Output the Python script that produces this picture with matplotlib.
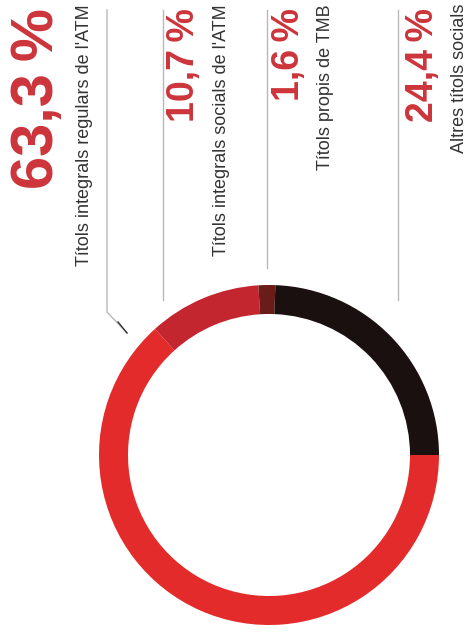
import matplotlib
matplotlib.use("Agg")
import matplotlib.pyplot as plt

# Data
shares = [63.3, 10.7, 1.6, 24.4]
labels = [
    "Títols integrals regulars de l'ATM",
    "Títols integrals socials de l'ATM",
    "Títols propis de TMB",
    "Altres títols socials",
]
colors = ["#e22b2a", "#c4262f", "#6a1c18", "#1a1010"]

plt.rcParams['font.family'] = ['Liberation Sans', 'DejaVu Sans']

W, H = 476, 640
fig = plt.figure(figsize=(W / 100, H / 100), dpi=100)
ax = fig.add_axes([0, 0, 1, 1])

# Donut (image coords converted: y_data = H - y_img)
cx, cy, r_out, ring = 269, H - 455, 170, 29
ax.pie(shares, colors=colors, startangle=0, counterclock=False,
       center=(cx, cy), radius=r_out,
       wedgeprops=dict(width=ring, linewidth=0))

# Text columns (rotated, reading bottom to top)
num_x = [38, 184, 289, 423]
num_size = [43, 27, 27, 27]
lab_x = [85, 222, 325, 460]
for v, lab, nx, ns, lx in zip(shares, labels, num_x, num_size, lab_x):
    pct = f"{v:.1f}".replace('.', ',') + "\u2009%"
    ax.text(nx, H - 8, pct, rotation=90, ha='center', va='top',
            fontsize=ns, fontweight='bold', color='#cc343a')
    ax.text(lx, H - 4, lab, rotation=90, ha='center', va='top',
            fontsize=13, color='#333333')

# Separator / leader lines
line_kw = dict(color='#b8b8b8', linewidth=1.0)
ax.plot([107, 107, 127], [H - 10, H - 312, H - 333], **line_kw)
ax.plot([127, 118], [H - 333, H - 322], color='#333333', linewidth=1.0)
ax.plot([163, 163], [H - 10, H - 300], **line_kw)
ax.plot([267, 267], [H - 10, H - 268], **line_kw)
ax.plot([398, 398], [H - 10, H - 300], **line_kw)

ax.set_xlim(0, W)
ax.set_ylim(0, H)
ax.set_aspect('equal')
ax.axis('off')

fig.savefig('out.png', dpi=100, facecolor='white')
